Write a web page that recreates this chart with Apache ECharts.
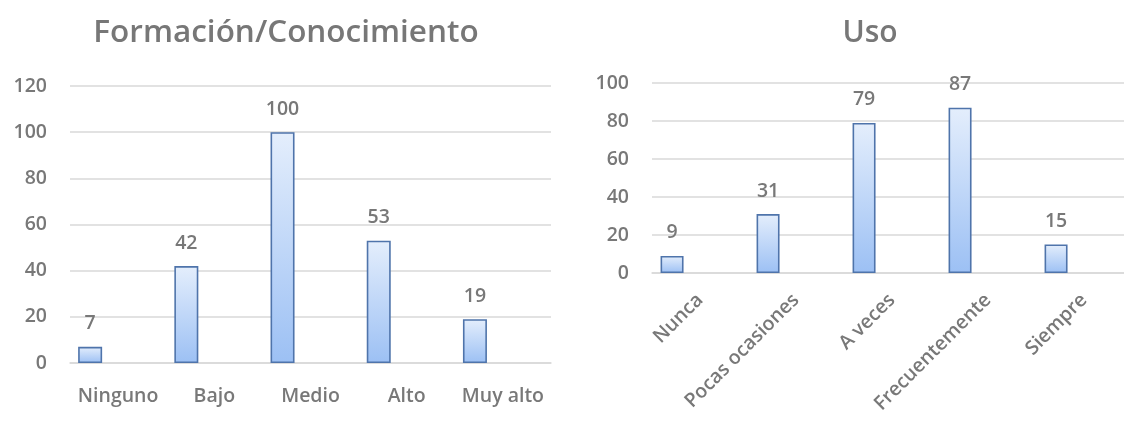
<!DOCTYPE html>
<html><head><meta charset="utf-8">
<script src="https://cdn.jsdelivr.net/npm/echarts@6/dist/echarts.min.js"></script>
<style>html,body{margin:0;padding:0;background:#fff}#c{width:1124px;height:421px}</style>
</head><body><div id="c"></div>
<script>
const titleLeft = 'Formación/Conocimiento';
const titleRight = 'Uso';
const catsLeft = ['Ninguno', 'Bajo', 'Medio', 'Alto', 'Muy alto'];
const valsLeft = [7, 42, 100, 53, 19];
const catsRight = ['Nunca', 'Pocas ocasiones', 'A veces', 'Frecuentemente', 'Siempre'];
const valsRight = [9, 31, 79, 87, 15];

const FONT = 'Open Sans';
const TXT = '#787878';
const GRID = '#d9d9d9';
const barFill = new echarts.graphic.LinearGradient(0, 0, 0, 1, [
  { offset: 0, color: '#e4eefc' },
  { offset: 1, color: '#9cc0f4' }
]);
const barStyle = { color: barFill, borderColor: '#4f74ab', borderWidth: 1.6 };
const labelStyle = { show: true, position: 'top', distance: 13, color: TXT, fontFamily: FONT, fontWeight: 600, fontSize: 19.5 };
const axisText = { color: TXT, fontFamily: FONT, fontWeight: 600, fontSize: 19.5 };

const chart = echarts.init(document.getElementById('c'), null, { renderer: 'canvas' });
chart.setOption({
  animation: false,
  backgroundColor: '#fff',
  graphic: [
    { type: 'text', x: 286, y: 33, style: { text: titleLeft, fill: '#777', font: '600 31.5px "Open Sans"', align: 'center', verticalAlign: 'middle', textAlign: 'center', textVerticalAlign: 'middle' } },
    { type: 'text', x: 870, y: 33, style: { text: titleRight, fill: '#777', font: '600 30px "Open Sans"', align: 'center', verticalAlign: 'middle', textAlign: 'center', textVerticalAlign: 'middle' } }
  ],
  grid: [
    { left: 70, width: 481, top: 86, bottom: 58, containLabel: false, outerBoundsMode: 'none' },
    { left: 652, width: 480, top: 83, bottom: 148, containLabel: false, outerBoundsMode: 'none' }
  ],
  xAxis: [
    { type: 'category', gridIndex: 0, data: catsLeft, axisTick: { show: false },
      axisLine: { lineStyle: { color: GRID, width: 1.5 } },
      axisLabel: Object.assign({ margin: 23, interval: 0 }, axisText) },
    { type: 'category', gridIndex: 1, data: catsRight, axisTick: { show: false },
      axisLine: { lineStyle: { color: GRID, width: 1.5 } },
      axisLabel: Object.assign({ margin: 24, interval: 0, rotate: 45 }, axisText) }
  ],
  yAxis: [
    { type: 'value', gridIndex: 0, min: 0, max: 120, interval: 20,
      axisLine: { show: false }, axisTick: { show: false },
      splitLine: { lineStyle: { color: GRID, width: 1.5 } },
      axisLabel: Object.assign({ margin: 23 }, axisText) },
    { type: 'value', gridIndex: 1, min: 0, max: 100, interval: 20,
      axisLine: { show: false }, axisTick: { show: false },
      splitLine: { lineStyle: { color: GRID, width: 1.5 } },
      axisLabel: Object.assign({ margin: 23 }, axisText) }
  ],
  series: [
    { type: 'bar', xAxisIndex: 0, yAxisIndex: 0, data: valsLeft, barWidth: 24, barGap: '133%', itemStyle: barStyle, label: labelStyle },
    { type: 'bar', xAxisIndex: 0, yAxisIndex: 0, data: [], barWidth: 24, barGap: '133%' },
    { type: 'bar', xAxisIndex: 1, yAxisIndex: 1, data: valsRight, barWidth: 23, barGap: '143%', itemStyle: barStyle, label: labelStyle },
    { type: 'bar', xAxisIndex: 1, yAxisIndex: 1, data: [], barWidth: 23, barGap: '143%' }
  ]
});
</script>
</body></html>
